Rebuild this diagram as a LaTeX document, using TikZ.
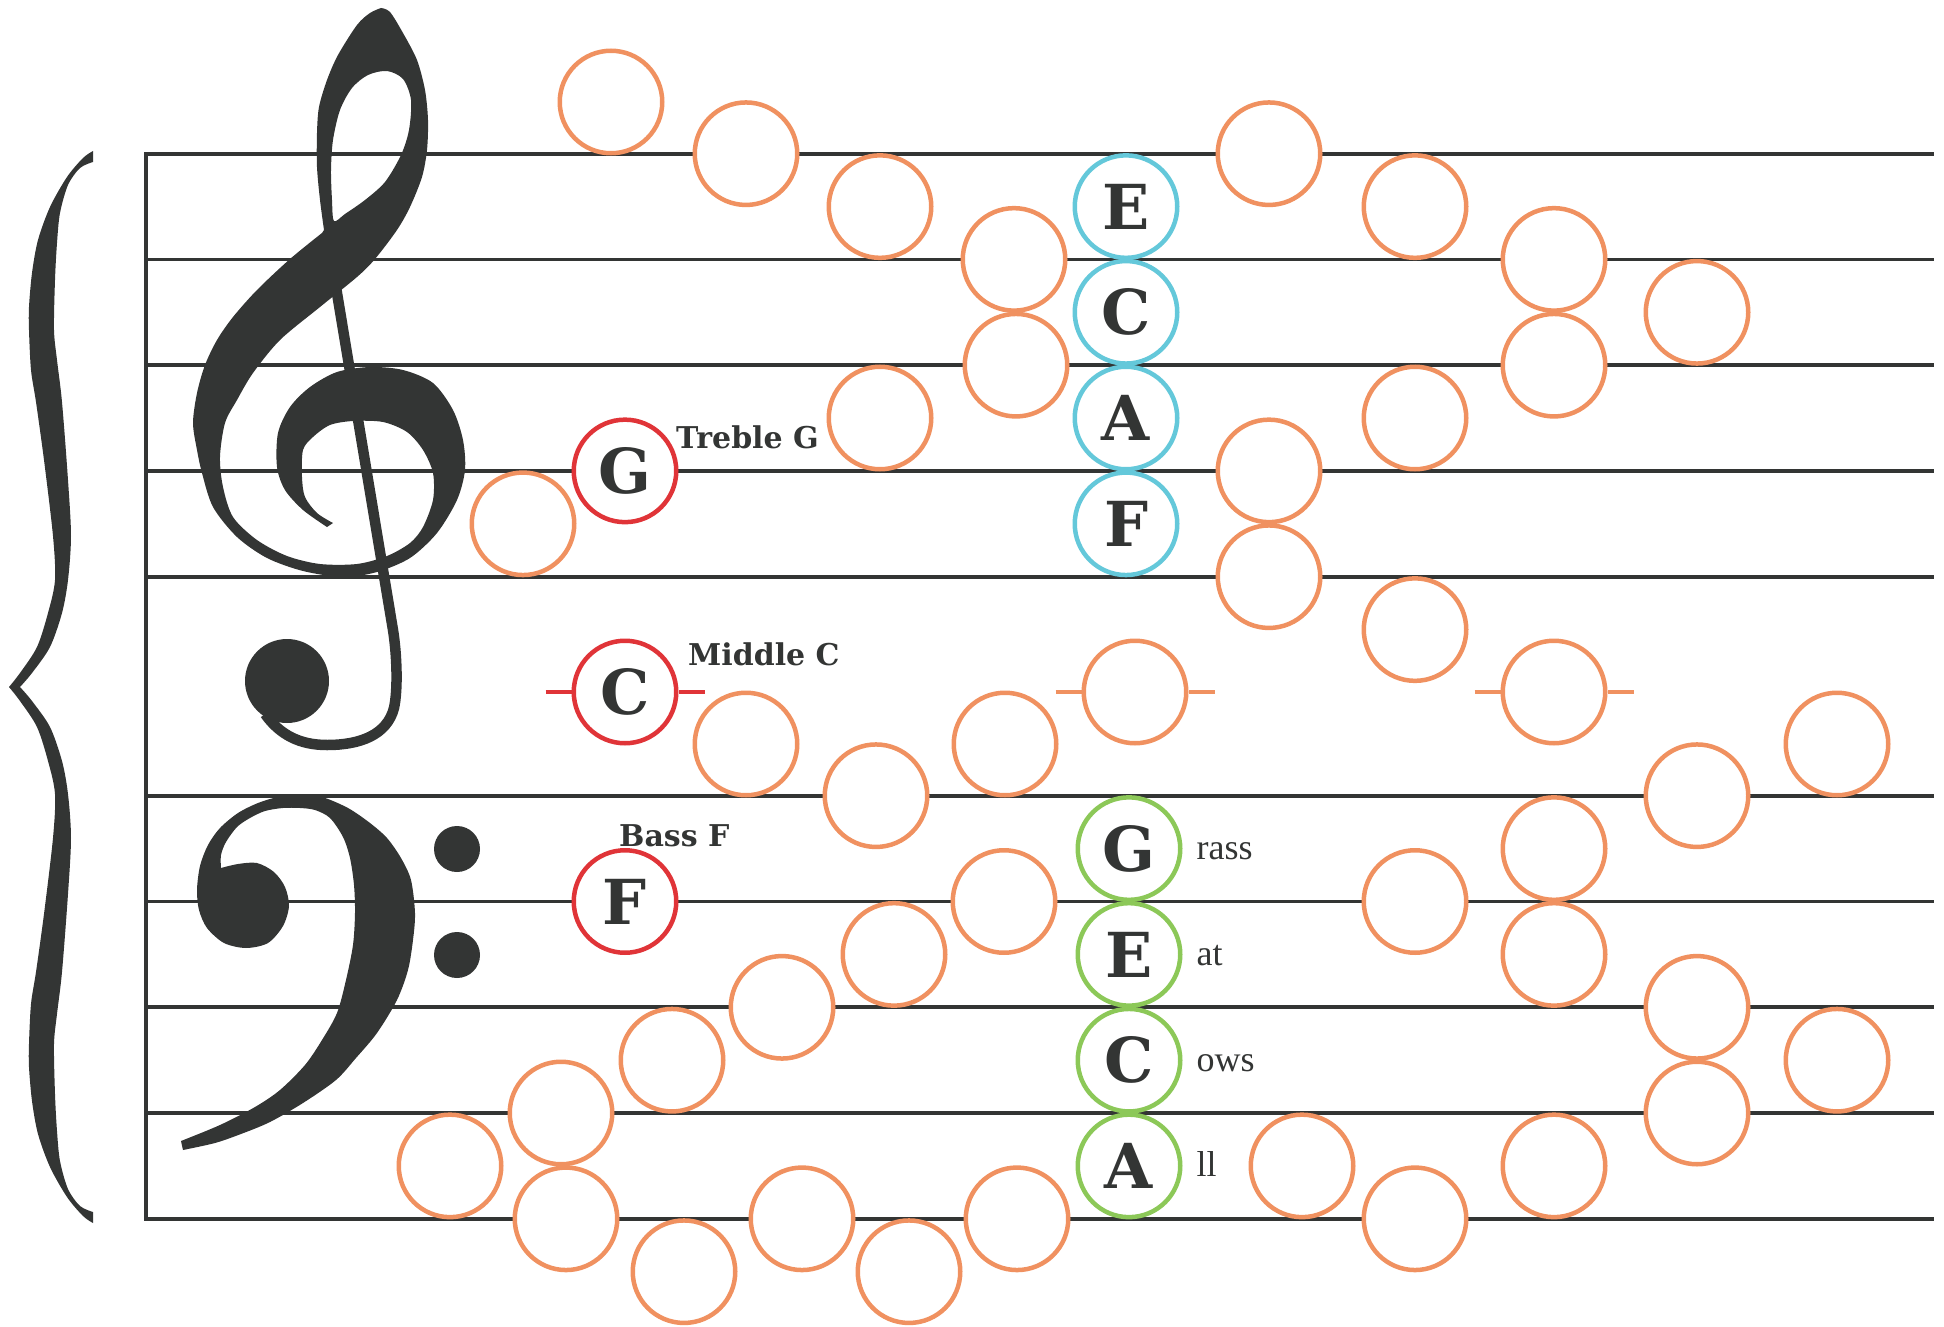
\documentclass[tikz,border=0pt]{standalone}
\usepackage{fontspec}
\newfontfamily\notefont{DejaVu Serif}
\newfontfamily\wordfont{Liberation Serif}
\usetikzlibrary{positioning}
\definecolor{ink}{HTML}{333534}
\definecolor{noteorange}{HTML}{F09160}
\definecolor{notered}{HTML}{E03438}
\definecolor{notecyan}{HTML}{64C8DA}
\definecolor{notegreen}{HTML}{8CC858}
\tikzset{
    %Define style for note circles
    note/.style={
           circle,
           draw=noteorange, line width=4.5pt,
           fill=white,
           minimum size=102.5pt,
           inner sep=0pt,
           font=\notefont\bfseries\fontsize{62}{62}\selectfont,
           text=ink},
    rednote/.style={note, draw=notered},
    treblespace/.style={note, draw=notecyan},
    bassspace/.style={note, draw=notegreen},
    %Define style for labels
    tag/.style={
           font=\notefont\bfseries\fontsize{30}{30}\selectfont,
           text=ink, anchor=base west, inner sep=0pt},
    word/.style={
           font=\wordfont\fontsize{36}{36}\selectfont,
           text=ink, anchor=base west, inner sep=0pt},
    % Define line styles
    staffline/.style={draw=ink, line width=3.8pt, line cap=rect},
    ledger/.style={line width=4.5pt}
}
% upper half of the brace
\newcommand{\bracehalf}{plot[smooth] coordinates {(93,151) (83,158) (67,177) (50,207) (38,240) (32,273) (29,307) (29,330) (31,370) (36,402) (44,460) (53,536) (55,580) (48,613) (37,647) (20,673) (9,687)}
  -- plot[smooth] coordinates {(20,687) (32,673) (50,647) (62,613) (68,580) (71,536) (68,480) (62,402) (57,360) (54,330) (55,280) (57,243) (60,213) (68,185) (80,168) (93,162)} -- cycle}

\begin{document}
\begin{tikzpicture}[x=1pt,y=-1pt]
\useasboundingbox (0,0) rectangle (1944,1327);
 %staff
\foreach \y in {153.7,259.4,365.2,470.9,576.7,795.7,901.5,1007.3,1113,1218.8}
    \draw[staffline] (145.7,\y) -- (1932,\y);
\draw[staffline] (145.7,153.7) -- (145.7,1218.8);

 %brace
\fill[ink] \bracehalf;
\begin{scope}[shift={(0,1374)},yscale=-1]
\fill[ink] \bracehalf;
\end{scope}

 %treble clef
\fill[ink, even odd rule]
  plot[smooth] coordinates {(381,8) (370,13) (357,25) (338,55) (327,80) (319,107) (317,133) (317,167) (320,200) (324,230)}
  -- plot[smooth] coordinates {(322,233) (290,259) (257,290) (233,317) (217,340) (205,365) (197,393) (193,423) (197,450) (202,473) (213,507) (237,537) (267,558) (303,571) (343,577) (377,572) (410,558) (437,533) (457,500) (465,470) (463,440) (453,410) (433,383) (403,370) (370,367) (337,372) (310,387) (290,407) (278,433) (277,467) (285,490) (303,510) (327,527)}
  -- plot[smooth] coordinates {(333,523) (317,513) (305,497) (302,477) (303,450) (313,437) (330,425) (353,421) (383,422) (407,432) (423,450) (433,473) (433,500) (423,527) (410,543) (387,556) (357,564) (320,564) (287,556) (257,540) (233,517) (223,487) (220,457) (225,423) (237,400) (253,373) (280,340) (320,307) (357,277) (375,259) (397,230) (410,207) (422,177) (427,150) (428,120) (425,90) (417,60) (403,33) (390,12) (381,8)}
  -- cycle
  plot[smooth cycle] coordinates {(387,71) (403,79) (411,100) (409,130) (401,155) (385,182) (365,200) (345,214) (334,221) (332,200) (331,170) (333,140) (340,110) (352,88) (368,75)};
\draw[ink, line width=10.5pt] (329,245) -- (393,630) .. controls (397,655) and (398,690) .. (394,708)
  .. controls (387,735) and (360,745) .. (327,745) .. controls (300,745) and (280,735) .. (265,714);
\fill[ink] (287,681) circle (42);

 %bass clef
\fill[ink]
  plot[smooth] coordinates {(221,868) (221,855) (226,842) (237,827) (250,818) (265,811) (283,808) (300,808) (315,810) (330,818) (343,837) (350,858) (354,885) (355,913) (353,945) (346,980) (337,1013) (322,1040) (305,1065) (280,1090) (255,1107) (220,1125) (181,1141)}
  -- plot[smooth] coordinates {(183,1150) (215,1143) (241,1134) (270,1122) (303,1103) (336,1080) (356,1058) (377,1033) (397,1000) (408,970) (413,940) (415,913) (411,880) (401,858) (387,838) (370,823) (348,808) (322,797) (300,795) (278,797) (258,803) (238,813) (220,828) (208,845) (200,866) (197,890) (199,910) (207,928) (224,943) (246,948) (268,943) (283,926) (289,906) (285,887) (274,872) (257,863) (238,864) (221,868)}
  -- cycle;
\fill[ink] (457,849) circle (23);
\fill[ink] (457,955) circle (23);

 %notes
\foreach \x/\y [count=\i] in {611/102, 746/153.7, 880/206.6, 1014/259.4, 1016/365.2, 880/418, 523/523.8,
    1269/153.7, 1415/206.6, 1554/259.4, 1697/312.3, 1554/365.2, 1415/418, 1269/470.9, 1269/576.7, 1415/629.6,
    746/744, 876/795.7, 1005/744, 1837/744, 1697/795.7, 1554/848.6, 1415/901.5, 1554/954.4,
    1697/1007.3, 1837/1060.2, 1697/1113, 1554/1165.9, 1302/1165.9, 1415/1218.8,
    1004/901.5, 894/954.4, 782/1007.3, 672/1060.2, 561/1113, 450/1165.9, 566/1218.8,
    684/1271.7, 802/1218.8, 909/1271.7, 1017/1218.8}
    \node[note] (o\i) at (\x,\y) {};
\node[note] (midC1) at (1135,692) {};
\node[note] (midC2) at (1554,692) {};

\node[rednote] (trebleG) at (625,470.9) {G};
\node[rednote] (middleC) at (625,692) {C};
\node[rednote] (bassF) at (625,901.5) {F};

\foreach \n/\c in {middleC/notered, midC1/noteorange, midC2/noteorange} {
    \draw[ledger, draw=\c] ([xshift=-26pt]\n.west) -- (\n.west);
    \draw[ledger, draw=\c] (\n.east) -- ([xshift=26pt]\n.east);
}

\node[tag] (trebleGtag) at (676,448) {Treble G};
\node[tag] (middleCtag) at (688,665) {Middle C};
\node[tag] (bassFtag) at (619,846.5) {Bass F};

 %FACE and GECA
\foreach \y/\ltr [count=\i] in {206.6/E, 312.3/C, 418/A, 523.8/F}
    \node[treblespace] (face\i) at (1126,\y) {\ltr};
\foreach \y/\ltr/\wrd [count=\i] in {848.6/G/rass, 954.4/E/at, 1060.2/C/ows, 1165.9/A/ll} {
    \node[bassspace] (aceg\i) at (1129,\y) {\ltr};
    \node[word] (acegword\i) at ([xshift=14pt,yshift=-11pt]aceg\i.east) {\wrd};
}
\end{tikzpicture}
\end{document}
